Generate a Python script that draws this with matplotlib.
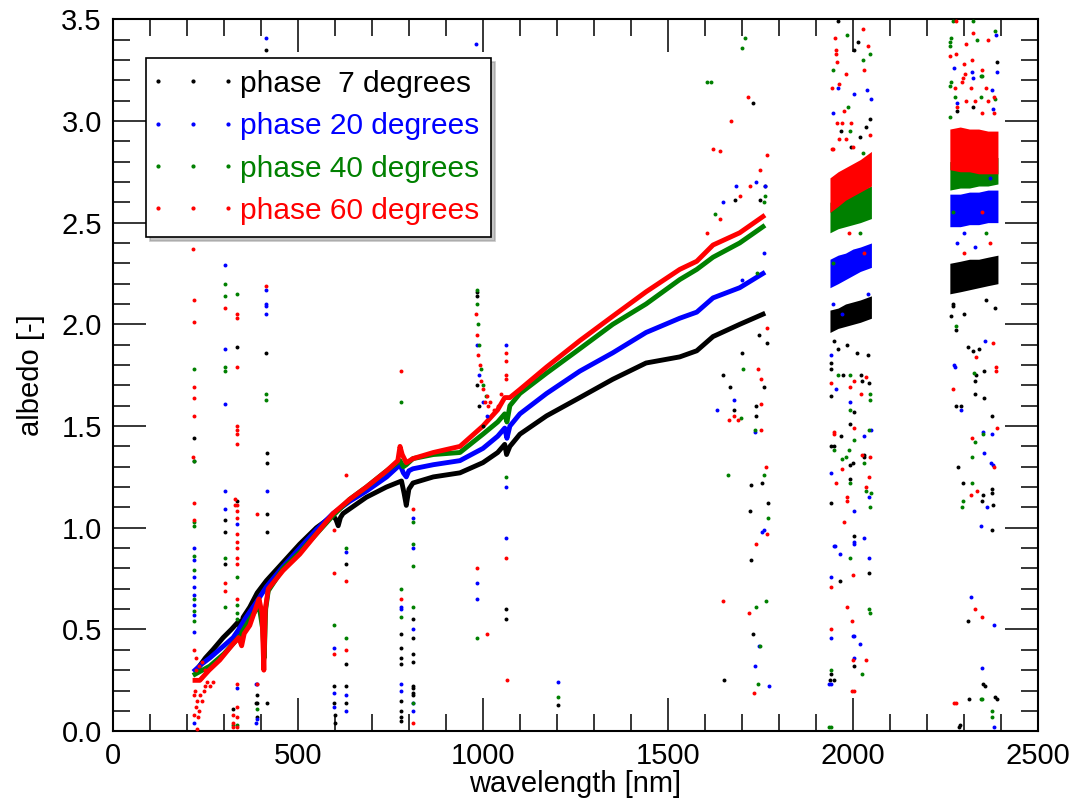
import matplotlib
matplotlib.use("Agg")
import matplotlib.pyplot as plt
from matplotlib.lines import Line2D
from matplotlib.legend_handler import HandlerLine2D
from matplotlib.ticker import MultipleLocator, FormatStrFormatter

plt.rcParams['font.family'] = ['Liberation Sans', 'DejaVu Sans']

# ---- main spectra (wavelength nm, albedo) ----
black_wl = [230, 250, 270, 298, 320, 340, 345, 352, 370, 390, 415, 460, 505, 550, 595, 603, 609, 615,
            622, 685, 739, 780, 787, 793, 800, 811, 866, 938, 1000, 1040, 1059, 1064, 1073, 1100,
            1172, 1262, 1351, 1441, 1532, 1578, 1622, 1694, 1757]
black_alb = [0.31, 0.36, 0.40, 0.46, 0.50, 0.54, 0.50, 0.56, 0.61, 0.68, 0.74, 0.83, 0.92, 1.00, 1.06,
             1.04, 1.01, 1.05, 1.07, 1.15, 1.20, 1.23, 1.17, 1.11, 1.19, 1.22, 1.25, 1.27, 1.32, 1.37,
             1.41, 1.36, 1.40, 1.46, 1.55, 1.64, 1.73, 1.81, 1.84, 1.87, 1.94, 2.00, 2.05]

blue_wl = [222, 240, 262, 300, 325, 340, 360, 390, 415, 460, 505, 550, 595, 640, 685, 740, 776, 785,
           793, 800, 811, 866, 938, 1000, 1040, 1059, 1065, 1073, 1100, 1172, 1262, 1351, 1441, 1532,
           1578, 1622, 1694, 1757]
blue_alb = [0.30, 0.33, 0.36, 0.42, 0.46, 0.50, 0.56, 0.64, 0.71, 0.81, 0.90, 0.99, 1.07, 1.13, 1.18,
            1.25, 1.31, 1.27, 1.25, 1.28, 1.29, 1.31, 1.33, 1.39, 1.45, 1.49, 1.44, 1.50, 1.56, 1.66,
            1.77, 1.86, 1.96, 2.03, 2.06, 2.13, 2.18, 2.25]

green_wl = [222, 262, 300, 325, 340, 370, 395, 405, 409, 413, 420, 460, 505, 550, 595, 640, 685, 740,
            776, 785, 793, 811, 866, 938, 1000, 1040, 1059, 1065, 1073, 1100, 1172, 1262, 1351, 1441,
            1532, 1578, 1622, 1694, 1757]
green_alb = [0.28, 0.32, 0.38, 0.43, 0.46, 0.55, 0.62, 0.50, 0.36, 0.60, 0.69, 0.80, 0.88, 0.97, 1.06,
             1.14, 1.20, 1.28, 1.33, 1.30, 1.31, 1.34, 1.36, 1.37, 1.46, 1.52, 1.56, 1.52, 1.60, 1.66,
             1.76, 1.88, 2.00, 2.10, 2.22, 2.27, 2.33, 2.40, 2.48]

red_wl = [222, 235, 260, 289, 325, 340, 348, 355, 370, 389, 395, 403, 408, 412, 420, 460, 505, 550,
          595, 640, 685, 740, 770, 776, 782, 793, 811, 866, 938, 1000, 1040, 1059, 1073, 1100, 1172,
          1262, 1351, 1441, 1532, 1578, 1622, 1694, 1757]
red_alb = [0.25, 0.25, 0.30, 0.35, 0.43, 0.46, 0.42, 0.48, 0.52, 0.62, 0.65, 0.58, 0.30, 0.60, 0.70,
           0.79, 0.87, 0.97, 1.07, 1.14, 1.20, 1.28, 1.33, 1.40, 1.36, 1.32, 1.34, 1.37, 1.40, 1.50,
           1.58, 1.64, 1.64, 1.68, 1.79, 1.92, 2.04, 2.16, 2.27, 2.31, 2.39, 2.45, 2.53]

# ---- dense noisy bands beyond 1900 nm (lower / upper edge) ----
band1_wl = [1938, 1960, 1980, 2000, 2020, 2050]
band2_wl = [2262, 2290, 2315, 2340, 2365, 2392]
black_b1 = ([1.96, 1.98, 1.99, 2.00, 2.01, 2.03], [2.07, 2.08, 2.10, 2.11, 2.12, 2.14])
blue_b1 = ([2.18, 2.20, 2.22, 2.24, 2.26, 2.28], [2.32, 2.34, 2.35, 2.37, 2.38, 2.40])
green_b1 = ([2.45, 2.47, 2.48, 2.49, 2.50, 2.52], [2.60, 2.62, 2.63, 2.64, 2.66, 2.68])
red_b1 = ([2.55, 2.58, 2.61, 2.63, 2.65, 2.68], [2.72, 2.75, 2.77, 2.79, 2.81, 2.85])
black_b2 = ([2.15, 2.16, 2.17, 2.18, 2.19, 2.20], [2.30, 2.31, 2.32, 2.32, 2.33, 2.34])
blue_b2 = ([2.48, 2.48, 2.49, 2.49, 2.50, 2.50], [2.64, 2.64, 2.65, 2.65, 2.66, 2.66])
green_b2 = ([2.66, 2.67, 2.67, 2.68, 2.68, 2.69], [2.80, 2.80, 2.81, 2.81, 2.82, 2.82])
red_b2 = ([2.76, 2.75, 2.75, 2.74, 2.74, 2.74], [2.96, 2.97, 2.96, 2.96, 2.95, 2.95])

# ---- scattered outlier points (wavelength, albedo) ----
black_out = [(413, 3.35), (219, 1.44), (219, 1.33), (335, 1.89), (413, 1.86), (984, 2.16), (984, 2.14),
             (416, 1.37), (416, 1.32), (303, 1.04), (303, 0.98), (335, 1.13), (416, 1.07), (416, 0.98),
             (630, 0.82), (630, 0.33), (597, 0.22), (597, 0.14), (630, 0.22), (630, 0.14), (778, 0.48),
             (778, 0.41), (778, 0.36), (778, 0.33), (778, 0.15), (778, 0.07), (811, 0.55), (811, 0.46),
             (811, 0.38), (811, 0.34), (811, 0.22), (811, 0.19), (416, 0.14), (389, 0.18), (389, 0.14),
             (389, 0.07), (303, 0.82), (325, 0.11), (386, 0.14), (600, 0.08), (600, 0.04), (778, 0.10),
             (778, 0.05), (811, 0.21), (811, 0.18), (1203, 0.13), (1062, 0.60), (1062, 0.55),
             (984, 1.70), (990, 1.60), (1000, 1.50),
             (1668, 1.69), (1679, 1.58), (1738, 1.60), (1738, 1.55), (1759, 1.69), (1724, 1.21),
             (1754, 1.22), (1722, 1.08), (1770, 1.12), (1768, 1.91), (1651, 0.25), (1725, 0.84),
             (1729, 0.48), (1681, 2.61), (1730, 3.09), (1762, 2.68), (1749, 2.61), (1648, 1.75),
             (1700, 1.86), (1745, 1.95),
             (1960, 3.49), (2014, 3.39), (2003, 3.35), (2046, 3.01), (2036, 2.97), (1968, 2.95),
             (2020, 2.92), (1995, 2.87), (1940, 1.81), (1940, 1.78), (1973, 1.75), (2022, 1.75),
             (2025, 1.72), (2043, 1.71), (1940, 1.65), (2003, 1.57), (1992, 1.51), (1967, 1.45),
             (1940, 1.40), (1950, 1.40), (2030, 1.36), (2030, 1.35), (2000, 1.32), (1993, 1.31),
             (1993, 1.24), (1940, 1.12), (2003, 0.96), (2043, 0.78), (1965, 0.74), (2003, 0.32),
             (1940, 0.28), (1950, 0.25), (1938, 0.25), (1985, 1.90), (1960, 1.88), (2040, 1.85),
             (1950, 1.92), (2010, 1.86),
             (2389, 3.29), (2280, 3.05), (2325, 3.07), (2264, 2.04), (2270, 2.09), (2278, 1.97),
             (2310, 1.89), (2325, 1.87), (2340, 1.88), (2333, 1.75), (2330, 1.72), (2330, 1.66),
             (2354, 1.77), (2355, 1.64), (2278, 1.60), (2293, 1.60), (2376, 1.55), (2283, 1.30),
             (2297, 1.22), (2375, 1.19), (2377, 1.17), (2351, 1.16), (2348, 1.13), (2378, 1.11),
             (2375, 0.99), (2311, 0.54), (2356, 0.22), (2314, 0.16), (2390, 0.16), (2290, 0.03),
             (2351, 0.23), (2384, 0.17), (2286, 0.02), (2270, 2.10), (2300, 2.05), (2385, 2.08),
             (2360, 2.12)]

blue_out = [(413, 3.41), (981, 3.38), (303, 2.29), (413, 2.17), (413, 2.10), (413, 2.09), (413, 2.05),
            (303, 1.88), (303, 1.61), (303, 1.18), (303, 1.09), (416, 1.18), (219, 0.90), (219, 0.84),
            (219, 0.76), (219, 0.71), (219, 0.67), (219, 0.62), (219, 0.57), (219, 0.49), (219, 0.04),
            (335, 1.02), (335, 0.49), (335, 0.21), (630, 0.88), (597, 0.41), (597, 0.19), (597, 0.12),
            (630, 0.18), (630, 0.10), (778, 0.61), (778, 0.60), (778, 0.23), (778, 0.20), (811, 1.05),
            (811, 0.90), (811, 0.50), (811, 0.10), (811, 0.14), (389, 0.23), (389, 0.06), (386, 0.04),
            (386, 0.23), (984, 0.73), (984, 0.65), (1203, 0.24), (1062, 1.90), (1062, 1.20),
            (1062, 0.95), (984, 1.90), (990, 1.75), (1000, 1.62), (1010, 1.55), (1773, 0.22),
            (1935, 0.23), (2380, 0.02),
            (1632, 1.58), (1679, 1.63), (1735, 1.47), (1760, 0.99), (1754, 0.98), (1649, 2.60),
            (1685, 2.68), (1738, 2.70), (1762, 2.68), (1735, 0.32), (1745, 0.42), (1700, 2.22),
            (1760, 2.35),
            (1960, 3.16), (2038, 3.15), (2048, 3.11), (2003, 3.13), (1946, 3.04), (1940, 1.85),
            (1953, 1.68), (1992, 1.62), (2048, 1.48), (2030, 1.45), (1940, 1.27), (2043, 1.15),
            (2003, 1.08), (1950, 0.91), (1952, 0.91), (2030, 0.95), (2003, 0.93), (2003, 0.92),
            (1965, 0.87), (2043, 0.85), (1940, 0.76), (1940, 0.46), (2000, 0.47), (2003, 0.47),
            (2020, 0.43), (2003, 0.36), (1940, 0.23), (1945, 2.10), (1970, 2.05), (2040, 2.15),
            (2386, 3.42), (2273, 3.26), (2322, 3.24), (2325, 3.21), (2389, 3.24), (2376, 3.15),
            (2282, 3.09), (2379, 3.06), (2357, 1.92), (2273, 1.80), (2277, 1.79), (2293, 1.58),
            (2351, 1.47), (2376, 1.46), (2353, 1.37), (2372, 1.32), (2378, 1.31), (2363, 1.10),
            (2345, 1.01), (2320, 0.66), (2381, 0.52), (2350, 0.31), (2280, 2.40), (2330, 2.38),
            (2370, 2.72), (2300, 2.45)]

green_out = [(303, 2.20), (303, 2.14), (335, 2.15), (219, 1.78), (303, 1.79), (303, 1.77), (413, 1.66),
             (413, 1.63), (778, 1.62), (984, 2.17), (219, 1.33), (219, 1.03), (219, 1.01), (219, 0.86),
             (219, 0.79), (219, 0.65), (219, 0.59), (219, 0.54), (303, 0.85), (303, 0.61), (335, 0.76),
             (335, 0.62), (335, 0.58), (335, 0.55), (335, 0.03), (325, 0.03), (630, 0.90), (630, 0.46),
             (597, 0.52), (778, 0.70), (778, 0.56), (811, 1.03), (811, 0.92), (811, 0.81), (811, 0.61),
             (811, 0.14), (389, 0.11), (984, 0.46), (1203, 0.17), (983, 2.10), (986, 2.00),
             (990, 1.90), (995, 1.78), (1000, 1.70), (1008, 1.65), (1062, 1.25), (1935, 0.02),
             (2346, 0.16), (2376, 0.10), (2376, 0.07),
             (1662, 1.26), (1697, 1.54), (1703, 1.78), (1735, 1.48), (1760, 1.26), (1770, 1.05),
             (1627, 2.54), (1762, 2.63), (1605, 3.19), (1617, 3.19), (1708, 3.41), (1700, 3.36),
             (1740, 2.25), (1760, 2.60), (1749, 0.42), (1764, 0.64), (1743, 0.23), (1738, 0.61),
             (1983, 3.42), (2046, 3.33), (2027, 3.30), (1946, 3.25), (1987, 3.07), (1992, 2.95),
             (2027, 2.84), (1960, 1.75), (1992, 1.75), (2046, 1.66), (2046, 1.63), (1992, 1.58),
             (2043, 1.48), (2003, 1.43), (1950, 1.38), (1990, 1.38), (1980, 1.35), (1970, 1.34),
             (2030, 1.32), (1992, 1.22), (2035, 1.18), (2048, 1.17), (2045, 1.10), (1992, 0.85),
             (2043, 0.60), (2046, 0.58), (2025, 0.28), (1940, 0.30), (1940, 0.02), (1945, 2.30),
             (2020, 2.45),
             (2270, 3.49), (2325, 3.49), (2385, 3.44), (2265, 3.41), (2263, 3.39), (2262, 3.37),
             (2335, 3.40), (2265, 3.19), (2345, 3.22), (2350, 3.22), (2262, 3.17), (2385, 3.11),
             (2276, 3.12), (2345, 3.12), (2262, 3.02), (2278, 1.99), (2327, 1.76), (2351, 1.46),
             (2330, 1.42), (2322, 1.35), (2322, 1.22), (2297, 1.13), (2295, 1.10), (2349, 0.16),
             (2270, 2.55), (2360, 2.45)]

red_out = [(217, 2.37), (219, 2.12), (303, 2.08), (335, 2.05), (335, 2.03), (413, 2.19), (219, 2.01),
           (335, 1.79), (219, 1.69), (219, 1.64), (219, 1.55), (778, 1.77), (335, 1.50), (335, 1.48),
           (335, 1.46), (335, 1.41), (330, 1.14), (330, 1.11), (389, 1.07), (216, 1.35), (219, 1.12),
           (219, 1.04), (335, 1.11), (335, 1.08), (335, 1.05), (335, 0.97), (335, 0.93), (335, 0.90),
           (335, 0.85), (335, 0.82), (335, 0.65), (303, 0.73), (303, 0.69), (335, 0.23), (335, 0.12),
           (335, 0.07), (335, 0.02), (227, 0.01), (219, 0.08), (325, 0.02), (325, 0.04), (325, 0.08),
           (630, 1.26), (597, 0.99), (630, 0.74), (597, 0.78), (630, 0.40), (597, 0.38), (778, 0.65),
           (811, 1.09), (811, 0.04), (389, 0.23), (984, 0.80), (1011, 0.48), (1065, 0.25),
           (1732, 0.19), (1997, 0.20), (2273, 0.14), (2278, 0.14),
           (982, 2.05), (985, 1.95), (988, 1.85), (992, 1.80), (995, 1.72), (1000, 1.68), (1005, 1.62),
           (1010, 1.65), (1015, 1.60), (1020, 1.62), (1030, 1.58), (1040, 1.60), (1050, 1.66),
           (1062, 1.86), (1062, 1.82), (1062, 1.75), (1062, 1.73), (1062, 0.85),
           (220, 0.40), (222, 0.20), (225, 0.12), (228, 0.15), (232, 0.10), (236, 0.18), (240, 0.15),
           (245, 0.20), (250, 0.22), (226, 0.30), (230, 0.07), (238, 0.26), (255, 0.24), (262, 0.22),
           (270, 0.24), (218, 0.18), (224, 0.36), (233, 0.32), (242, 0.34), (248, 0.30),
           (1665, 1.53), (1679, 1.55), (1690, 1.53), (1751, 1.48), (1751, 1.73), (1751, 1.61),
           (1743, 1.78), (1768, 0.97), (1738, 0.92), (1768, 1.98), (1605, 2.45), (1641, 2.52),
           (1695, 2.63), (1722, 2.68), (1622, 2.86), (1640, 2.85), (1671, 3.00), (1716, 3.12),
           (1749, 2.76), (1767, 2.83), (1648, 0.64), (1718, 0.58), (1765, 1.30),
           (1951, 3.41), (2027, 3.45), (2040, 3.37), (1954, 3.35), (1954, 3.33), (1956, 3.29),
           (1980, 3.23), (2030, 3.25), (1944, 3.16), (1962, 3.18), (1976, 3.05), (1958, 2.99),
           (1970, 2.99), (1995, 2.99), (2046, 2.93), (1962, 2.91), (1980, 2.91), (1944, 2.86),
           (1947, 2.86), (2000, 2.87), (2003, 1.72), (2035, 1.74), (1940, 1.71), (1992, 1.69),
           (2022, 1.66), (2003, 1.49), (1949, 1.47), (1949, 1.46), (2025, 1.36), (2046, 1.35),
           (1970, 1.29), (2043, 1.25), (1953, 1.22), (2035, 1.20), (1983, 1.15), (1983, 1.13),
           (1976, 1.03), (2000, 0.77), (1940, 0.71), (1983, 0.61), (1998, 0.54), (1940, 0.50),
           (2000, 0.35), (2035, 0.35), (2003, 0.20), (1990, 2.45), (2030, 2.35),
           (2278, 3.49), (2325, 3.43), (2365, 3.40), (2278, 3.33), (2305, 3.38), (2262, 3.32),
           (2300, 3.28), (2322, 3.30), (2350, 3.25), (2298, 3.21), (2303, 3.23), (2295, 3.19),
           (2318, 3.16), (2276, 3.16), (2380, 3.12), (2360, 3.16), (2305, 3.10), (2330, 3.10),
           (2365, 3.10), (2280, 3.07), (2350, 3.04), (2380, 3.04), (2378, 1.91), (2332, 1.84),
           (2386, 1.79), (2388, 1.77), (2270, 1.68), (2389, 1.49), (2322, 1.44), (2382, 1.30),
           (2335, 1.18), (2320, 1.16), (2330, 0.60), (2350, 0.56), (2300, 2.35), (2350, 2.55),
           (2370, 2.40)]

labels = ['phase  7 degrees', 'phase 20 degrees', 'phase 40 degrees', 'phase 60 degrees']
colors = ['black', 'blue', 'green', 'red']

series = [
    (black_wl, black_alb, black_b1, black_b2, black_out),
    (blue_wl, blue_alb, blue_b1, blue_b2, blue_out),
    (green_wl, green_alb, green_b1, green_b2, green_out),
    (red_wl, red_alb, red_b1, red_b2, red_out),
]

fig = plt.figure(figsize=(10.75, 8), dpi=100)
ax = fig.add_axes([0.105, 0.086, 0.8605, 0.890])

for (wl, alb, b1, b2, out), c in zip(series, colors):
    ax.plot(wl, alb, color=c, lw=3.5, solid_joinstyle='round', zorder=2)
    ax.fill_between(band1_wl, b1[0], b1[1], color=c, lw=0, zorder=2)
    ax.fill_between(band2_wl, b2[0], b2[1], color=c, lw=0, zorder=2)
    ox = [p[0] for p in out]
    oy = [p[1] for p in out]
    ax.scatter(ox, oy, s=8, color=c, lw=0, zorder=3)

ax.set_xlim(0, 2500)
ax.set_ylim(0, 3.5)
ax.xaxis.set_major_locator(MultipleLocator(500))
ax.xaxis.set_minor_locator(MultipleLocator(100))
ax.yaxis.set_major_locator(MultipleLocator(0.5))
ax.yaxis.set_minor_locator(MultipleLocator(0.1))
ax.yaxis.set_major_formatter(FormatStrFormatter('%.1f'))
ax.tick_params(which='both', direction='in', top=True, right=True, labelsize=21, width=1.1)
ax.tick_params(which='major', length=24, pad=8)
ax.tick_params(which='minor', length=12)
for s in ax.spines.values():
    s.set_linewidth(1.5)

ax.set_xlabel('wavelength [nm]', fontsize=21, labelpad=0)
ax.set_ylabel('albedo [-]', fontsize=21, labelpad=12)

handles = [Line2D([], [], ls='none', marker='o', ms=2, color=c) for c in colors]
leg = fig.legend(handles, labels, loc='upper left', bbox_to_anchor=(0.1358, 0.9275),
                 bbox_transform=fig.transFigure, numpoints=3, handlelength=2.34,
                 handletextpad=0.4, borderpad=0.4, labelspacing=0.48, fontsize=21.5,
                 labelcolor=colors, fancybox=False, framealpha=1, edgecolor='black',
                 handler_map={Line2D: HandlerLine2D(marker_pad=0)},
                 shadow={'ox': 3, 'oy': -3, 'color': '0.55'}, borderaxespad=0)
leg.get_frame().set_linewidth(1.2)

fig.savefig('out.png', dpi=100)
